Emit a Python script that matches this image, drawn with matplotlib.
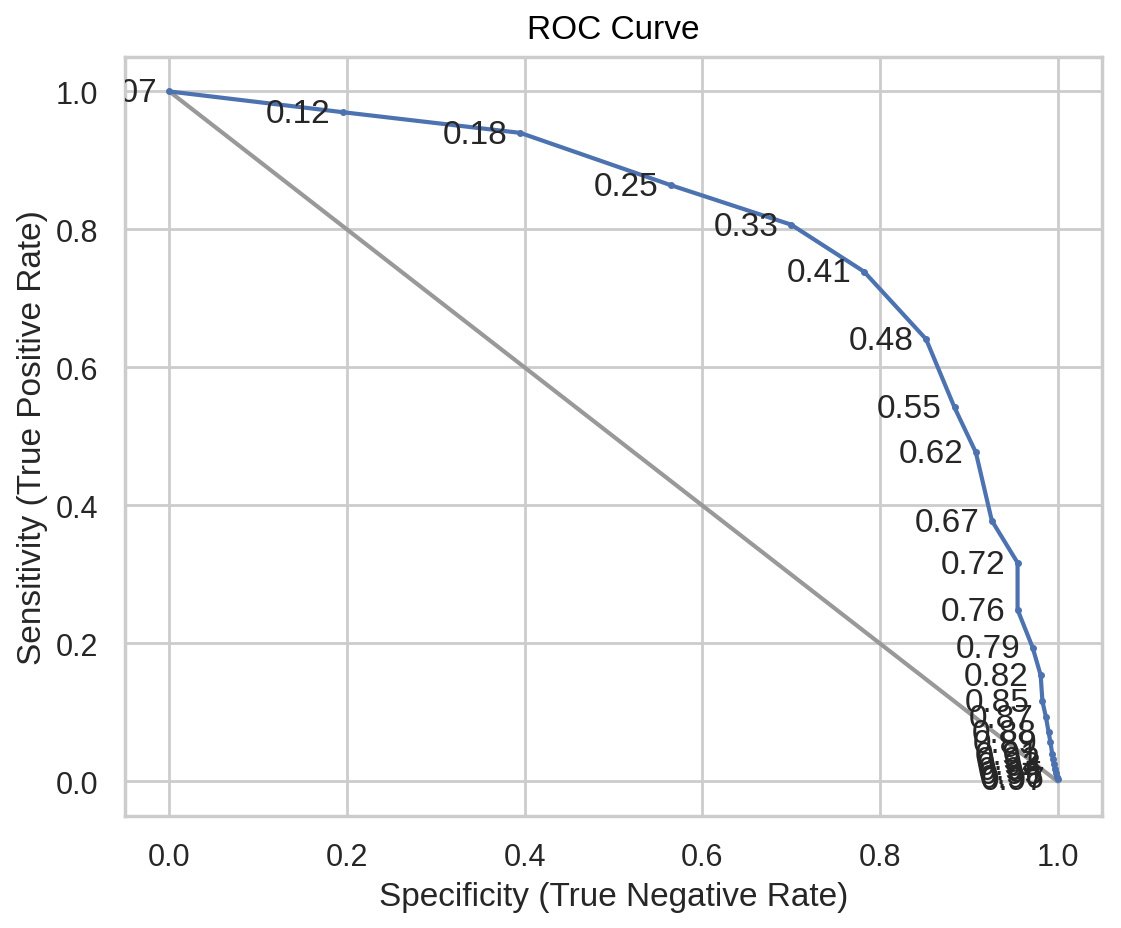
import numpy as np
import matplotlib.pyplot as plt
import seaborn as sns

sns.set_theme(style="whitegrid")
plt.rcParams['font.family'] = ['Liberation Sans', 'DejaVu Sans']

# thresholds used as point labels
thresholds = [0.07, 0.12, 0.18, 0.25, 0.33, 0.41, 0.48, 0.55, 0.62, 0.67,
              0.72, 0.76, 0.79, 0.82, 0.85, 0.87, 0.88, 0.89, 0.91, 0.92,
              0.93, 0.94, 0.95, 0.96, 0.97]
specificity = [0.0, 0.195, 0.395, 0.565, 0.700, 0.782, 0.852, 0.884, 0.908,
               0.926, 0.955, 0.955, 0.972, 0.981, 0.983, 0.987, 0.990, 0.992,
               0.994, 0.995, 0.996, 0.997, 0.998, 0.999, 1.0]
sensitivity = [1.0, 0.970, 0.940, 0.864, 0.807, 0.739, 0.641, 0.542, 0.477,
               0.378, 0.317, 0.249, 0.194, 0.154, 0.116, 0.093, 0.071, 0.057,
               0.040, 0.032, 0.025, 0.018, 0.012, 0.007, 0.003]

fig, ax = plt.subplots(figsize=(5.605, 4.645), dpi=200)
fig.subplots_adjust(left=0.1115, right=0.983, top=0.9376, bottom=0.1206)

ax.plot([0, 1], [1, 0], color='#999999', lw=1.5)
ax.plot(specificity, sensitivity, marker='o', ms=1.5, lw=1.5, color='#4C72B0')

for t, x, y in zip(thresholds, specificity, sensitivity):
    ax.annotate('%0.2f' % t, (x, y), xytext=(-4.5, -0.5), textcoords='offset points',
                ha='right', va='center', fontsize=12, color='#262626',
                clip_on=True)

ax.set_title('ROC Curve', fontsize=12, color='black', pad=7)
ax.set_xlabel('Specificity (True Negative Rate)', fontsize=12, labelpad=3)
ax.set_ylabel('Sensitivity (True Positive Rate)', fontsize=12, labelpad=3)
ax.tick_params(labelsize=11)

fig.savefig('out.png', dpi=200)
